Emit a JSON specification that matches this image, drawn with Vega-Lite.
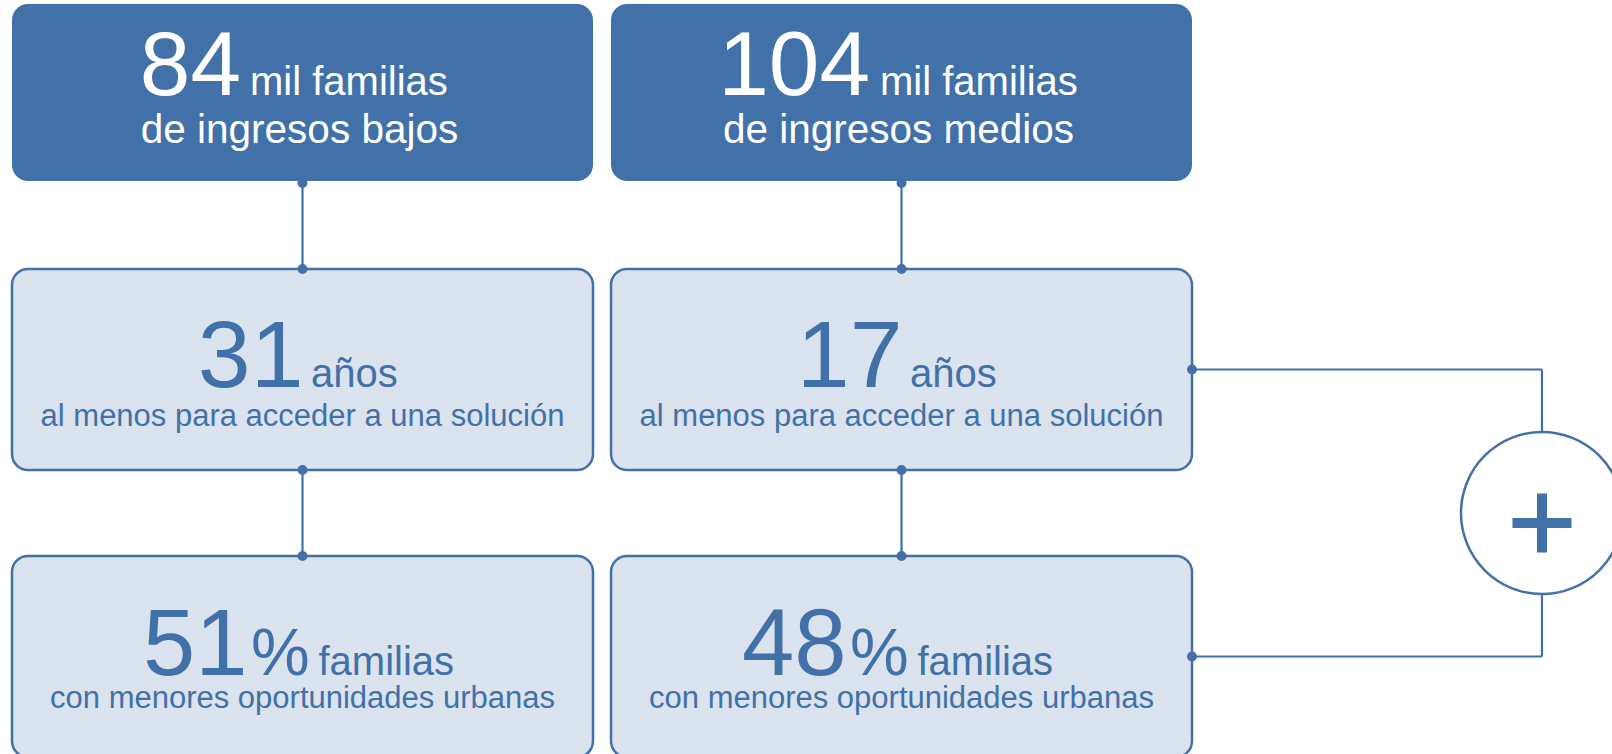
{
  "$schema": "https://vega.github.io/schema/vega-lite/v6.json",
  "width": 1612,
  "height": 754,
  "autosize": "none",
  "padding": 0,
  "background": "white",
  "config": {"view": {"stroke": null}, "text": {"font": "Liberation Sans"}},
  "datasets": {
    "cajas": [
      {"grupo": "bajos", "nivel": "n1", "valor": "84", "signo": "", "unidad": "mil familias", "descripcion": "de ingresos bajos"},
      {"grupo": "medios", "nivel": "n1", "valor": "104", "signo": "", "unidad": "mil familias", "descripcion": "de ingresos medios"},
      {"grupo": "bajos", "nivel": "n2", "valor": "31", "signo": "", "unidad": "años", "descripcion": "al menos para acceder a una solución"},
      {"grupo": "medios", "nivel": "n2", "valor": "17", "signo": "", "unidad": "años", "descripcion": "al menos para acceder a una solución"},
      {"grupo": "bajos", "nivel": "n3", "valor": "51", "signo": "%", "unidad": "familias", "descripcion": "con menores oportunidades urbanas"},
      {"grupo": "medios", "nivel": "n3", "valor": "48", "signo": "%", "unidad": "familias", "descripcion": "con menores oportunidades urbanas"}
    ],
    "conexiones": [
      {"grupo": "bajos", "desde": "n1", "hasta": "n2"},
      {"grupo": "bajos", "desde": "n2", "hasta": "n3"},
      {"grupo": "medios", "desde": "n1", "hasta": "n2"},
      {"grupo": "medios", "desde": "n2", "hasta": "n3"}
    ],
    "suma": [
      {"desde": "medios", "hasta": "suma", "nivel": "n2"},
      {"desde": "medios", "hasta": "suma", "nivel": "n3"}
    ],
    "total": [
      {"grupo": "suma", "desde": "n2", "hasta": "n3", "signo": "+"}
    ]
  },
  "layer": [
    {
      "data": {"name": "cajas"},
      "transform": [{"filter": "datum.nivel == 'n1'"}],
      "mark": {"type": "rect", "height": 177, "yOffset": 10, "cornerRadius": 16, "fill": "#4271A9"},
      "encoding": {
        "x": {"field": "grupo", "type": "nominal", "axis": null, "scale": {"type": "band", "domain": ["bajos", "medios", "suma"], "range": [12, 1791], "paddingInner": 0.03005, "paddingOuter": 0}},
        "y": {"field": "nivel", "type": "nominal", "axis": null, "scale": {"type": "band", "domain": ["n1", "n2", "n3"], "range": [-18, 757], "paddingInner": 0.29965, "paddingOuter": 0}}
      }
    },
    {
      "data": {"name": "cajas"},
      "transform": [{"filter": "datum.nivel != 'n1'"}],
      "mark": {"type": "rect", "cornerRadius": 16, "fill": "#DBE3EE", "stroke": "#4271A9", "strokeWidth": 2.5},
      "encoding": {
        "x": {"field": "grupo", "type": "nominal", "axis": null, "scale": {"type": "band", "domain": ["bajos", "medios", "suma"], "range": [12, 1791], "paddingInner": 0.03005, "paddingOuter": 0}},
        "y": {"field": "nivel", "type": "nominal", "axis": null, "scale": {"type": "band", "domain": ["n1", "n2", "n3"], "range": [-18, 757], "paddingInner": 0.29965, "paddingOuter": 0}}
      }
    },
    {
      "data": {"name": "conexiones"},
      "mark": {"type": "rule", "color": "#4271A9", "strokeWidth": 2.2},
      "encoding": {
        "x": {"field": "grupo", "type": "nominal", "axis": null, "bandPosition": 0.5},
        "y": {"field": "desde", "type": "nominal", "axis": null, "bandPosition": 1},
        "y2": {"field": "hasta", "bandPosition": 0}
      }
    },
    {
      "data": {"name": "suma"},
      "mark": {"type": "rule", "color": "#4271A9", "strokeWidth": 2.2},
      "encoding": {
        "x": {"field": "desde", "type": "nominal", "axis": null, "bandPosition": 1},
        "x2": {"field": "hasta", "bandPosition": 0.5714},
        "y": {"field": "nivel", "type": "nominal", "axis": null, "bandPosition": 0.5}
      }
    },
    {
      "data": {"name": "total"},
      "mark": {"type": "rule", "color": "#4271A9", "strokeWidth": 2.2},
      "encoding": {
        "x": {"field": "grupo", "type": "nominal", "axis": null, "bandPosition": 0.5714},
        "y": {"field": "desde", "type": "nominal", "axis": null, "bandPosition": 0.5},
        "y2": {"field": "hasta", "bandPosition": 0.5}
      }
    },
    {
      "data": {"name": "total"},
      "mark": {"type": "point", "shape": "circle", "size": 26244, "filled": true, "fill": "#ffffff", "stroke": "#4271A9", "strokeWidth": 2.5, "opacity": 1},
      "encoding": {
        "x": {"field": "grupo", "type": "nominal", "axis": null, "bandPosition": 0.5714},
        "y": {"field": "desde", "type": "nominal", "axis": null, "bandPosition": 1.2139}
      }
    },
    {
      "data": {"name": "total"},
      "mark": {"type": "point", "shape": "M-1,-0.17L1,-0.17L1,0.17L-1,0.17Z M-0.17,-1L0.17,-1L0.17,1L-0.17,1Z", "size": 3481, "filled": true, "color": "#4271A9", "opacity": 1},
      "encoding": {
        "x": {"field": "grupo", "type": "nominal", "axis": null, "bandPosition": 0.5714},
        "y": {"field": "desde", "type": "nominal", "axis": null, "bandPosition": 1.2637}
      }
    },
    {
      "data": {"name": "conexiones"},
      "mark": {"type": "point", "shape": "circle", "size": 100, "filled": true, "color": "#4271A9", "opacity": 1},
      "encoding": {
        "x": {"field": "grupo", "type": "nominal", "axis": null, "bandPosition": 0.5},
        "y": {"field": "desde", "type": "nominal", "axis": null, "bandPosition": 1}
      }
    },
    {
      "data": {"name": "conexiones"},
      "mark": {"type": "point", "shape": "circle", "size": 100, "filled": true, "color": "#4271A9", "opacity": 1},
      "encoding": {
        "x": {"field": "grupo", "type": "nominal", "axis": null, "bandPosition": 0.5},
        "y": {"field": "hasta", "type": "nominal", "axis": null, "bandPosition": 0}
      }
    },
    {
      "data": {"name": "suma"},
      "mark": {"type": "point", "shape": "circle", "size": 100, "filled": true, "color": "#4271A9", "opacity": 1},
      "encoding": {
        "x": {"field": "desde", "type": "nominal", "axis": null, "bandPosition": 1},
        "y": {"field": "nivel", "type": "nominal", "axis": null, "bandPosition": 0.5}
      }
    },
    {
      "data": {"name": "cajas"},
      "transform": [{"filter": "datum.nivel == 'n1' && datum.grupo == 'bajos'"}],
      "mark": {"type": "text", "font": "Liberation Sans", "fontSize": 91, "color": "#ffffff", "align": "right", "baseline": "alphabetic", "dx": -61.5},
      "encoding": {
        "x": {"field": "grupo", "type": "nominal", "axis": null, "bandPosition": 0.5},
        "y": {"field": "nivel", "type": "nominal", "axis": null, "bandPosition": 0.562},
        "text": {"field": "valor", "type": "nominal"}
      }
    },
    {
      "data": {"name": "cajas"},
      "transform": [{"filter": "datum.nivel == 'n1' && datum.grupo == 'medios'"}],
      "mark": {"type": "text", "font": "Liberation Sans", "fontSize": 91, "color": "#ffffff", "align": "right", "baseline": "alphabetic", "dx": -31.5},
      "encoding": {
        "x": {"field": "grupo", "type": "nominal", "axis": null, "bandPosition": 0.5},
        "y": {"field": "nivel", "type": "nominal", "axis": null, "bandPosition": 0.562},
        "text": {"field": "valor", "type": "nominal"}
      }
    },
    {
      "data": {"name": "cajas"},
      "transform": [{"filter": "datum.nivel == 'n1' && datum.grupo == 'bajos'"}],
      "mark": {"type": "text", "font": "Liberation Sans", "fontSize": 40, "color": "#ffffff", "align": "left", "baseline": "alphabetic", "dx": -52.5},
      "encoding": {
        "x": {"field": "grupo", "type": "nominal", "axis": null, "bandPosition": 0.5},
        "y": {"field": "nivel", "type": "nominal", "axis": null, "bandPosition": 0.562},
        "text": {"field": "unidad", "type": "nominal"}
      }
    },
    {
      "data": {"name": "cajas"},
      "transform": [{"filter": "datum.nivel == 'n1' && datum.grupo == 'medios'"}],
      "mark": {"type": "text", "font": "Liberation Sans", "fontSize": 40, "color": "#ffffff", "align": "left", "baseline": "alphabetic", "dx": -21.5},
      "encoding": {
        "x": {"field": "grupo", "type": "nominal", "axis": null, "bandPosition": 0.5},
        "y": {"field": "nivel", "type": "nominal", "axis": null, "bandPosition": 0.562},
        "text": {"field": "unidad", "type": "nominal"}
      }
    },
    {
      "data": {"name": "cajas"},
      "transform": [{"filter": "datum.nivel == 'n1'"}],
      "mark": {"type": "text", "font": "Liberation Sans", "fontSize": 40.5, "color": "#ffffff", "align": "center", "baseline": "alphabetic", "dx": -3},
      "encoding": {
        "x": {"field": "grupo", "type": "nominal", "axis": null, "bandPosition": 0.5},
        "y": {"field": "nivel", "type": "nominal", "axis": null, "bandPosition": 0.801},
        "text": {"field": "descripcion", "type": "nominal"}
      }
    },
    {
      "data": {"name": "cajas"},
      "transform": [{"filter": "datum.nivel == 'n2'"}],
      "mark": {"type": "text", "font": "Liberation Sans", "fontSize": 95, "color": "#4271A9", "align": "right", "baseline": "alphabetic", "dx": 1},
      "encoding": {
        "x": {"field": "grupo", "type": "nominal", "axis": null, "bandPosition": 0.5},
        "y": {"field": "nivel", "type": "nominal", "axis": null, "bandPosition": 0.587},
        "text": {"field": "valor", "type": "nominal"}
      }
    },
    {
      "data": {"name": "cajas"},
      "transform": [{"filter": "datum.nivel == 'n2'"}],
      "mark": {"type": "text", "font": "Liberation Sans", "fontSize": 40, "color": "#4271A9", "align": "left", "baseline": "alphabetic", "dx": 8.5},
      "encoding": {
        "x": {"field": "grupo", "type": "nominal", "axis": null, "bandPosition": 0.5},
        "y": {"field": "nivel", "type": "nominal", "axis": null, "bandPosition": 0.587},
        "text": {"field": "unidad", "type": "nominal"}
      }
    },
    {
      "data": {"name": "cajas"},
      "transform": [{"filter": "datum.nivel == 'n2'"}],
      "mark": {"type": "text", "font": "Liberation Sans", "fontSize": 31, "color": "#4271A9", "align": "center", "baseline": "alphabetic"},
      "encoding": {
        "x": {"field": "grupo", "type": "nominal", "axis": null, "bandPosition": 0.5},
        "y": {"field": "nivel", "type": "nominal", "axis": null, "bandPosition": 0.781},
        "text": {"field": "descripcion", "type": "nominal"}
      }
    },
    {
      "data": {"name": "cajas"},
      "transform": [{"filter": "datum.nivel == 'n3'"}],
      "mark": {"type": "text", "font": "Liberation Sans", "fontSize": 94, "color": "#4271A9", "align": "right", "baseline": "alphabetic", "dx": -55},
      "encoding": {
        "x": {"field": "grupo", "type": "nominal", "axis": null, "bandPosition": 0.5},
        "y": {"field": "nivel", "type": "nominal", "axis": null, "bandPosition": 0.592},
        "text": {"field": "valor", "type": "nominal"}
      }
    },
    {
      "data": {"name": "cajas"},
      "transform": [{"filter": "datum.nivel == 'n3'"}],
      "mark": {"type": "text", "font": "Liberation Sans", "fontSize": 66, "color": "#4271A9", "align": "left", "baseline": "alphabetic", "dx": -51.5},
      "encoding": {
        "x": {"field": "grupo", "type": "nominal", "axis": null, "bandPosition": 0.5},
        "y": {"field": "nivel", "type": "nominal", "axis": null, "bandPosition": 0.592},
        "text": {"field": "signo", "type": "nominal"}
      }
    },
    {
      "data": {"name": "cajas"},
      "transform": [{"filter": "datum.nivel == 'n3'"}],
      "mark": {"type": "text", "font": "Liberation Sans", "fontSize": 40, "color": "#4271A9", "align": "left", "baseline": "alphabetic", "dx": 16},
      "encoding": {
        "x": {"field": "grupo", "type": "nominal", "axis": null, "bandPosition": 0.5},
        "y": {"field": "nivel", "type": "nominal", "axis": null, "bandPosition": 0.592},
        "text": {"field": "unidad", "type": "nominal"}
      }
    },
    {
      "data": {"name": "cajas"},
      "transform": [{"filter": "datum.nivel == 'n3'"}],
      "mark": {"type": "text", "font": "Liberation Sans", "fontSize": 31, "color": "#4271A9", "align": "center", "baseline": "alphabetic"},
      "encoding": {
        "x": {"field": "grupo", "type": "nominal", "axis": null, "bandPosition": 0.5},
        "y": {"field": "nivel", "type": "nominal", "axis": null, "bandPosition": 0.756},
        "text": {"field": "descripcion", "type": "nominal"}
      }
    }
  ]
}
